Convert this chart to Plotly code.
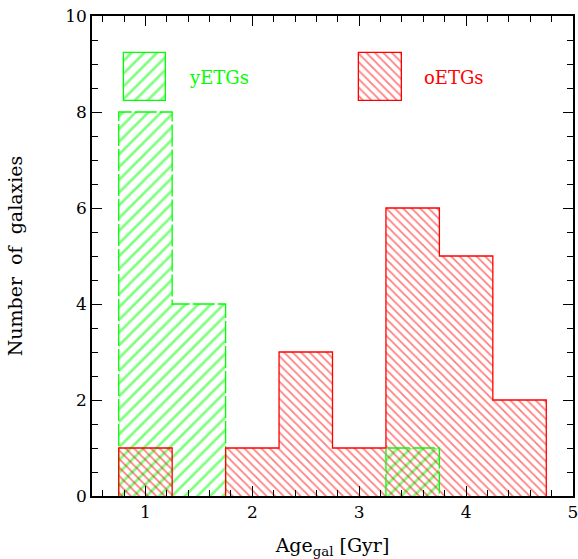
import plotly.graph_objects as go

bin_left = [0.75, 1.25, 1.75, 2.25, 2.75, 3.25, 3.75, 4.25]
bin_width = 0.5
young_counts = [8, 4, 0, 0, 0, 1, 0, 0]
old_counts = [1, 0, 1, 3, 1, 6, 5, 2]
labels = ["yETGs", "oETGs"]
green = "#00ff00"
red = "#ff0000"
FONT = "DejaVu Serif"

fig = go.Figure()

def centers():
    return [b + bin_width / 2 for b in bin_left]

def add_hist(counts, color, shape, psize, dash):
    fig.add_trace(go.Bar(
        x=centers(), y=counts, width=bin_width,
        marker=dict(color="rgba(0,0,0,0)", line=dict(width=0),
                    pattern=dict(shape=shape, fgcolor=color, bgcolor="rgba(0,0,0,0)",
                                 size=psize, solidity=0.3, fillmode="overlay")),
        showlegend=False, hoverinfo="skip"))
    # step outline
    xs, ys = [], []
    edges = bin_left + [bin_left[-1] + bin_width]
    prev = 0
    for i, c in enumerate(counts):
        if c > 0:
            if prev == 0:
                if xs:
                    xs.append(None); ys.append(None)
                xs.append(edges[i]); ys.append(0)
            xs.append(edges[i]); ys.append(c)
        else:
            if prev > 0:
                xs.append(edges[i]); ys.append(0)
        prev = c
    if prev > 0:
        xs.append(edges[-1]); ys.append(0)
    fig.add_trace(go.Scatter(x=xs, y=ys, mode="lines",
                             line=dict(color=color, width=1.3, shape="hv", dash=dash),
                             showlegend=False, hoverinfo="skip", connectgaps=False))

add_hist(young_counts, green, "/", 9, "22px,3px")
add_hist(old_counts, red, "\\", 6, "solid")

# legend boxes
for lx, col, shp, psize, lab in [(0.995, green, "/", 9, labels[0]), (3.2, red, "\\", 6, labels[1])]:
    fig.add_trace(go.Bar(x=[lx], y=[1.0], base=[8.22], width=0.4,
                         marker=dict(color="rgba(0,0,0,0)", line=dict(color=col, width=1.3),
                                     pattern=dict(shape=shp, fgcolor=col, bgcolor="rgba(0,0,0,0)",
                                                  size=psize, solidity=0.3, fillmode="overlay")),
                         showlegend=False, hoverinfo="skip"))
    fig.add_annotation(x=lx + 0.39, y=8.72, text=lab, showarrow=False, xanchor="left",
                       font=dict(family=FONT, size=18, color=col))

axis_common = dict(showline=True, linecolor="black", linewidth=1.5, mirror="allticks",
                   ticks="inside", ticklen=10, tickwidth=1.3, tickcolor="black",
                   showgrid=False, zeroline=False, automargin=False,
                   ticklabeloverflow="allow",
                   tickfont=dict(family=FONT, size=17, color="black"))

fig.update_layout(
    width=578, height=559,
    margin=dict(l=92, r=5, t=16, b=63),
    plot_bgcolor="white", paper_bgcolor="white",
    barmode="overlay", bargap=0,
    xaxis=dict(range=[0.5, 5], dtick=1, tick0=0,
               minor=dict(dtick=0.2, ticks="inside", ticklen=6, tickwidth=1.2, tickcolor="black"),
               title=dict(text="Age<sub>gal</sub> [Gyr]", font=dict(family=FONT, size=19, color="black"),
                          standoff=19),
               **axis_common),
    yaxis=dict(range=[0, 10], dtick=2, tick0=0,
               minor=dict(dtick=0.5, ticks="inside", ticklen=6, tickwidth=1.2, tickcolor="black"),
               title=dict(text="Number  of  galaxies", font=dict(family=FONT, size=19, color="black"),
                          standoff=38),
               **axis_common),
)

fig.write_html("out.html")
